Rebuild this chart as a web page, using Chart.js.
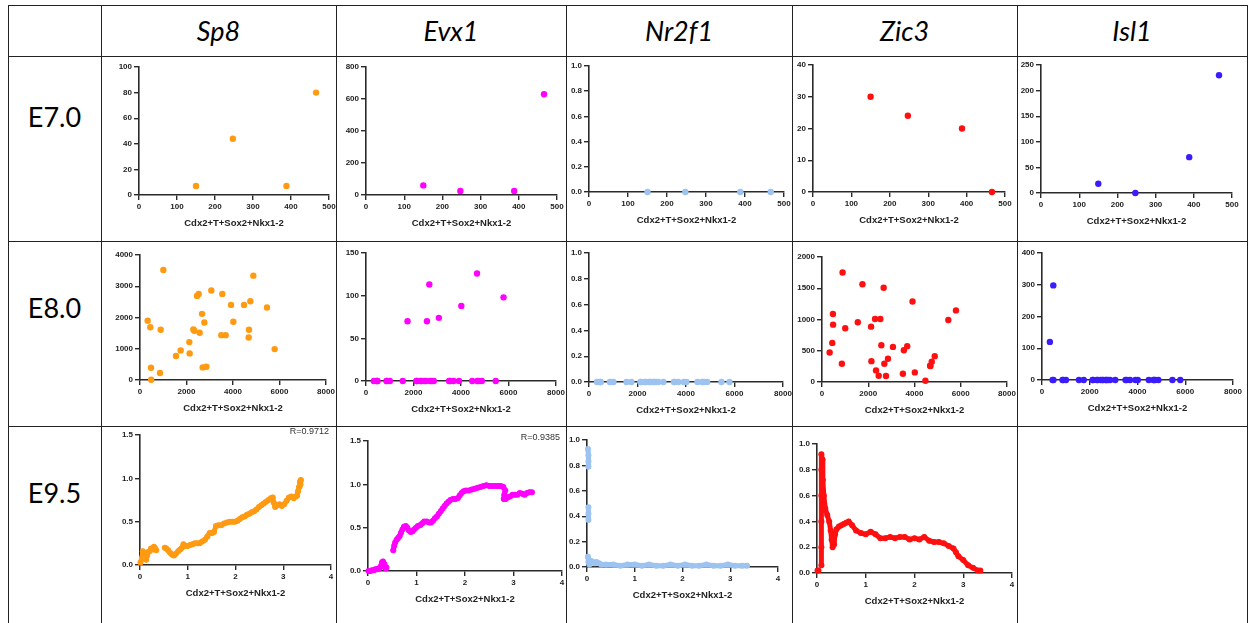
<!DOCTYPE html>
<html>
<head>
<meta charset="utf-8">
<script src="https://cdn.jsdelivr.net/npm/chart.js@4.4.0/dist/chart.umd.min.js"></script>
<style>
  body { margin: 0; background: #fff; width: 1250px; height: 623px; overflow: hidden; position: relative; font-family: Lato, "Liberation Sans", sans-serif; }
  .hl { position: absolute; height: 1px; background: #222; z-index: 5; }
  .vl { position: absolute; width: 1px; background: #222; z-index: 5; }
  .cell { position: absolute; overflow: hidden; }
  .cell canvas { position: absolute; }
  .head { position: absolute; font-style: italic; font-size: 27px; text-align: center; line-height: 51px; color: #000; }
  .stage { position: absolute; font-size: 27px; text-align: center; line-height: 30px; color: #000; }
</style>
</head>
<body>
<script>
const genes = ['Sp8', 'Evx1', 'Nr2f1', 'Zic3', 'Isl1'];
const stages = ['E7.0', 'E8.0', 'E9.5'];
const colors = ['#FF9A12', '#FF00FF', '#9DC3F0', '#FF1010', '#3A1CFF'];
const xTitle = 'Cdx2+T+Sox2+Nkx1-2';

// x ticks per stage
const xTicksE70 = [0, 100, 200, 300, 400, 500];
const xTicksE80 = [0, 2000, 4000, 6000, 8000];
const xTicksE95 = [0, 1, 2, 3, 4];

// y ticks per panel
const yTicksSp8E70 = [0, 20, 40, 60, 80, 100];
const yTicksEvx1E70 = [0, 200, 400, 600, 800];
const yTicksNr2f1 = [0, 0.2, 0.4, 0.6, 0.8, 1.0];
const yTicksZic3E70 = [0, 10, 20, 30, 40];
const yTicksIsl1E70 = [0, 50, 100, 150, 200, 250];
const yTicksSp8E80 = [0, 1000, 2000, 3000, 4000];
const yTicksEvx1E80 = [0, 50, 100, 150];
const yTicksZic3E80 = [0, 500, 1000, 1500, 2000];
const yTicksIsl1E80 = [0, 100, 200, 300, 400];
const yTicksE95 = [0, 0.5, 1.0, 1.5];

// E7.0
const xE70 = [150, 247, 388, 466];
const sp8E70 = [7, 44, 7, 80];
const evx1E70 = [60, 25, 25, 630];
const nr2f1E70 = [0, 0, 0, 0];
const zic3E70 = [30, 24, 20, 0];
const isl1E70 = [18, 0, 70, 230];

// E8.0
const xE80 = [330, 444, 473, 480, 860, 889, 1004, 1548, 1749, 2122, 2136, 2294, 2337, 2452, 2523, 2566, 2667,
  2695, 2767, 2853, 3068, 3498, 3541, 3685, 3914, 4014, 4473, 4674, 4688, 4746, 4875, 5462, 5792];
const sp8E80 = [1900, 1690, 394, 10, 223, 1606, 3521, 766, 947, 1213, 851, 1617, 1574, 2691, 2755, 1511, 2117,
  404, 1840, 426, 2862, 1436, 2755, 1436, 2404, 1862, 2404, 1362, 1606, 2521, 3340, 2319, 989];
const evx1E80 = [0, 0, 0, 0, 0, 0, 0, 0, 70, 0, 0, 0, 0, 0, 0, 70, 113,
  0, 0, 0, 74, 0, 0, 0, 0, 88, 0, 126, 0, 0, 0, 0, 98];
const nr2f1E80 = [0, 0, 0, 0, 0, 0, 0, 0, 0, 0, 0, 0, 0, 0, 0, 0, 0,
  0, 0, 0, 0, 0, 0, 0, 0, 0, 0, 0, 0, 0, 0, 0, 0];
const zic3E80 = [472, 626, 1088, 918, 292, 1751, 859, 955, 1565, 886, 334, 1008, 186, 101, 1008, 589, 1507,
  292, 95, 371, 562, 133, 509, 573, 1289, 154, 21, 260, 255, 324, 414, 992, 1146];
const isl1E80 = [120, 0, 298, 0, 0, 0, 0, 0, 0, 0, 0, 0, 0, 0, 0, 0, 0,
  0, 0, 0, 0, 0, 0, 0, 0, 0, 0, 0, 0, 0, 0, 0, 0];

// E9.5 (x, y) pairs; null y = break in the trace
const sp8E95 = [[0.01,0.03],[0.04,0.08],[0.06,0.16],[0.08,0.12],[0.10,0.09],[0.13,0.06],[0.15,0.11],[0.17,0.15],
  [0.20,0.16],[0.23,0.19],[0.26,0.18],[0.29,0.21],[0.31,0.20],[0.34,0.17],[0.43,null],[0.52,0.20],[0.55,0.19],
  [0.59,0.17],[0.63,0.14],[0.67,0.12],[0.71,0.11],[0.75,0.13],[0.80,0.16],[0.84,0.18],[0.88,0.20],[0.91,0.24],
  [0.95,0.22],[1.00,0.22],[1.05,0.23],[1.10,0.24],[1.15,0.25],[1.20,0.25],[1.25,0.25],[1.30,0.27],[1.36,0.29],
  [1.41,0.33],[1.46,0.37],[1.51,0.37],[1.55,0.38],[1.59,0.45],[1.64,0.46],[1.70,0.46],[1.76,0.48],[1.82,0.49],
  [1.88,0.50],[1.94,0.50],[1.99,0.50],[2.04,0.51],[2.09,0.53],[2.14,0.55],[2.19,0.56],[2.24,0.58],[2.29,0.59],
  [2.34,0.61],[2.39,0.62],[2.44,0.64],[2.49,0.67],[2.54,0.69],[2.59,0.71],[2.64,0.73],[2.69,0.75],[2.74,0.77],
  [2.78,0.78],[2.80,0.72],[2.83,0.67],[2.87,0.69],[2.92,0.70],[2.97,0.68],[3.02,0.70],[3.07,0.74],[3.12,0.78],
  [3.17,0.79],[3.22,0.77],[3.26,0.79],[3.29,0.80],[3.31,0.85],[3.33,0.90],[3.35,0.96],[3.37,0.98],[3.36,0.93]];
const evx1E95 = [[0.01,0.00],[0.05,0.00],[0.08,0.01],[0.12,0.01],[0.15,0.02],[0.19,0.02],[0.22,0.03],[0.25,0.04],
  [0.27,0.06],[0.29,0.10],[0.31,0.11],[0.33,0.08],[0.35,0.05],[0.37,0.03],[0.38,0.04],[0.45,null],[0.52,0.24],
  [0.54,0.29],[0.56,0.33],[0.59,0.36],[0.62,0.38],[0.65,0.40],[0.68,0.44],[0.71,0.48],[0.74,0.51],[0.78,0.52],
  [0.81,0.50],[0.84,0.47],[0.88,0.45],[0.92,0.46],[0.95,0.48],[0.99,0.50],[1.03,0.52],[1.08,0.53],[1.12,0.55],
  [1.16,0.57],[1.21,0.57],[1.26,0.56],[1.30,0.56],[1.34,0.58],[1.38,0.61],[1.42,0.63],[1.46,0.66],[1.50,0.69],
  [1.54,0.72],[1.58,0.75],[1.62,0.78],[1.66,0.80],[1.70,0.82],[1.75,0.83],[1.80,0.83],[1.85,0.84],[1.89,0.87],
  [1.93,0.90],[1.97,0.92],[2.02,0.93],[2.08,0.93],[2.14,0.94],[2.20,0.95],[2.26,0.96],[2.32,0.97],[2.38,0.98],
  [2.44,0.99],[2.50,0.98],[2.56,0.98],[2.62,0.98],[2.68,0.98],[2.74,0.98],[2.79,0.97],[2.83,0.93],[2.81,0.88],
  [2.80,0.83],[2.84,0.83],[2.88,0.85],[2.93,0.86],[2.98,0.88],[3.03,0.88],[3.08,0.88],[3.13,0.90],[3.18,0.89],
  [3.23,0.88],[3.28,0.90],[3.33,0.91],[3.38,0.91]];
const nr2f1E95 = [[0.02,0.93],[0.03,0.88],[0.03,0.83],[0.03,0.79],[0.03,null],[0.03,0.47],[0.03,0.42],[0.03,0.37],
  [0.03,null],[0.02,0.08],[0.03,0.04],[0.05,0.02],[0.08,0.05],[0.12,0.04],[0.16,0.03],[0.20,0.04],[0.25,0.03],
  [0.30,0.02],[0.40,0.02],[0.55,0.02],[0.70,0.01],[0.85,0.02],[1.00,0.02],[1.15,0.01],[1.30,0.02],[1.45,0.01],
  [1.60,0.01],[1.75,0.02],[1.90,0.01],[2.05,0.02],[2.20,0.01],[2.35,0.01],[2.50,0.02],[2.65,0.01],[2.80,0.01],
  [2.95,0.02],[3.10,0.01],[3.25,0.01],[3.35,0.01]];
const zic3E95 = [[0.01,0.02],[0.03,0.02],[0.05,null],[0.09,0.06],[0.09,0.20],[0.09,0.40],[0.09,0.60],[0.09,0.80],
  [0.09,0.92],[0.11,0.88],[0.12,0.72],[0.14,0.60],[0.17,0.50],[0.21,0.45],[0.25,0.40],[0.28,0.33],[0.30,0.26],
  [0.32,0.20],[0.35,0.22],[0.37,0.30],[0.40,0.34],[0.45,0.36],[0.50,0.37],[0.55,0.38],[0.60,0.39],[0.65,0.40],
  [0.72,0.37],[0.80,0.33],[0.90,0.31],[1.00,0.30],[1.10,0.32],[1.20,0.30],[1.30,0.27],[1.40,0.27],[1.50,0.28],
  [1.60,0.27],[1.70,0.28],[1.80,0.28],[1.90,0.26],[2.00,0.27],[2.10,0.26],[2.20,0.28],[2.30,0.25],[2.40,0.24],
  [2.50,0.24],[2.60,0.23],[2.70,0.21],[2.80,0.19],[2.85,0.16],[2.90,0.13],[3.00,0.10],[3.10,0.06],[3.20,0.04],
  [3.30,0.02],[3.35,0.02]];

const rValues = { Sp8: 'R=0.9712', Evx1: 'R=0.9385' };

// page layout (table lines and plot boxes [left, right, top, bottom])
const colEdges = [8, 101, 336, 566, 792, 1017, 1247];
const rowEdges = [5, 56, 241, 426, 700];
const stageLabelY = [117, 308, 493];
const plotBoxes = [
  [[139, 329, 67, 195], [366, 557, 67, 195], [589, 784, 66, 192], [813, 1005, 65, 192], [1041, 1232, 65, 193]],
  [[140, 326, 255, 380], [366, 556, 253, 381], [589, 783, 253, 382], [822, 1007, 257, 382], [1042, 1233, 253, 380]],
  [[140, 331, 435, 565], [368, 562, 441, 571], [587, 778, 440, 567], [817, 1012, 444, 573], null]
];

const zip = (xs, ys) => xs.map((x, i) => ({ x: x, y: ys[i] }));
const pairs = arr => arr.map(p => ({ x: p[0], y: p[1] }));

const panels = [
  [
    { data: zip(xE70, sp8E70), xt: xTicksE70, yt: yTicksSp8E70 },
    { data: zip(xE70, evx1E70), xt: xTicksE70, yt: yTicksEvx1E70 },
    { data: zip(xE70, nr2f1E70), xt: xTicksE70, yt: yTicksNr2f1 },
    { data: zip(xE70, zic3E70), xt: xTicksE70, yt: yTicksZic3E70 },
    { data: zip(xE70, isl1E70), xt: xTicksE70, yt: yTicksIsl1E70 }
  ],
  [
    { data: zip(xE80, sp8E80), xt: xTicksE80, yt: yTicksSp8E80 },
    { data: zip(xE80, evx1E80), xt: xTicksE80, yt: yTicksEvx1E80 },
    { data: zip(xE80, nr2f1E80), xt: xTicksE80, yt: yTicksNr2f1 },
    { data: zip(xE80, zic3E80), xt: xTicksE80, yt: yTicksZic3E80 },
    { data: zip(xE80, isl1E80), xt: xTicksE80, yt: yTicksIsl1E80 }
  ],
  [
    { data: pairs(sp8E95), xt: xTicksE95, yt: yTicksE95, dense: true },
    { data: pairs(evx1E95), xt: xTicksE95, yt: yTicksE95, dense: true },
    { data: pairs(nr2f1E95), xt: xTicksE95, yt: yTicksNr2f1, dense: true },
    { data: pairs(zic3E95), xt: xTicksE95, yt: yTicksNr2f1, dense: true },
    null
  ]
];

// grid lines
colEdges.forEach(x => {
  const d = document.createElement('div');
  d.className = 'vl';
  d.style.left = x + 'px'; d.style.top = rowEdges[0] + 'px'; d.style.height = (623 - rowEdges[0]) + 'px';
  document.body.appendChild(d);
});
rowEdges.slice(0, 4).forEach(y => {
  const d = document.createElement('div');
  d.className = 'hl';
  d.style.top = y + 'px'; d.style.left = colEdges[0] + 'px'; d.style.width = (colEdges[6] - colEdges[0] + 1) + 'px';
  document.body.appendChild(d);
});

// header + stage labels
genes.forEach((g, i) => {
  const d = document.createElement('div');
  d.className = 'head';
  d.textContent = g;
  d.style.left = colEdges[i + 1] + 'px'; d.style.width = (colEdges[i + 2] - colEdges[i + 1]) + 'px';
  d.style.top = rowEdges[0] + 'px'; d.style.height = (rowEdges[1] - rowEdges[0]) + 'px';
  document.body.appendChild(d);
});
stages.forEach((s, i) => {
  const d = document.createElement('div');
  d.className = 'stage';
  d.textContent = s;
  d.style.left = colEdges[0] + 'px'; d.style.width = (colEdges[1] - colEdges[0]) + 'px';
  d.style.top = (stageLabelY[i] - 15) + 'px';
  document.body.appendChild(d);
});

const fmt = (v, ticks) => ticks.some(t => t % 1 !== 0) ? v.toFixed(1) : String(v);

const rLabel = {
  id: 'rLabel',
  afterDraw(chart, args, opts) {
    if (!opts.text) return;
    const c = chart.ctx;
    c.save();
    c.font = '9px "Liberation Sans", Arial, sans-serif';
    c.fillStyle = '#333';
    c.textAlign = 'right';
    c.textBaseline = 'middle';
    c.fillText(opts.text, chart.chartArea.right - 2, chart.chartArea.top - 3);
    c.restore();
  }
};

const axisColor = '#2a2a2a';
const tickFont = { family: '"Liberation Sans", Arial, sans-serif', size: 8, weight: 'bold' };
const padL = 40, padT = 10, padR = 14, padB = 40;

function zeroPad(scale) {
  scale.paddingTop = 0; scale.paddingBottom = 0; scale.paddingLeft = 0; scale.paddingRight = 0;
}

panels.forEach((row, r) => {
  row.forEach((p, c) => {
    if (!p) return;
    const box = plotBoxes[r][c];
    const cell = document.createElement('div');
    cell.className = 'cell';
    const cx = colEdges[c + 1] + 1, cy = rowEdges[r + 1] + 1;
    cell.style.left = cx + 'px'; cell.style.top = cy + 'px';
    cell.style.width = (colEdges[c + 2] - cx) + 'px'; cell.style.height = (rowEdges[r + 2] - cy) + 'px';
    document.body.appendChild(cell);

    const cv = document.createElement('canvas');
    const w = box[1] - box[0] + padL + padR, h = box[3] - box[2] + padT + padB;
    cv.width = w; cv.height = h;
    cv.style.width = w + 'px'; cv.style.height = h + 'px';
    cv.style.left = (box[0] - padL - cx) + 'px';
    cv.style.top = (box[2] - padT - cy) + 'px';
    cell.appendChild(cv);

    const col = colors[c];
    new Chart(cv, {
      type: 'scatter',
      data: {
        datasets: [{
          data: p.data,
          backgroundColor: col,
          borderColor: col,
          pointRadius: p.dense ? 3 : 3.2,
          pointBorderWidth: 0,
          pointHoverRadius: 3,
          showLine: !!p.dense,
          borderWidth: p.dense ? 5 : 0,
          borderJoinStyle: 'round',
          borderCapStyle: 'round',
          spanGaps: false,
          clip: false
        }]
      },
      options: {
        responsive: false,
        animation: false,
        devicePixelRatio: 1,
        layout: { padding: { left: 0, top: padT, right: padR, bottom: 0 } },
        plugins: {
          legend: { display: false },
          tooltip: { enabled: false },
          rLabel: { text: r === 2 ? rValues[genes[c]] : null }
        },
        scales: {
          x: {
            type: 'linear',
            min: p.xt[0], max: p.xt[p.xt.length - 1],
            afterBuildTicks: s => { s.ticks = p.xt.map(v => ({ value: v })); },
            afterFit: s => { s.height = padB; zeroPad(s); },
            ticks: { font: tickFont, color: '#222', padding: 2, maxRotation: 0, autoSkip: false,
              callback: v => fmt(v, p.xt) },
            grid: { display: true, drawOnChartArea: false, drawTicks: true, tickLength: 5, color: axisColor, lineWidth: 1.4 },
            border: { display: true, color: axisColor, width: 1.6 },
            title: { display: true, text: xTitle, color: '#222', padding: { top: 2, bottom: 6 },
              font: { family: '"Liberation Sans", Arial, sans-serif', size: 9.5, weight: 'bold' } }
          },
          y: {
            type: 'linear',
            min: p.yt[0], max: p.yt[p.yt.length - 1],
            afterBuildTicks: s => { s.ticks = p.yt.map(v => ({ value: v })); },
            afterFit: s => { s.width = padL; zeroPad(s); },
            ticks: { font: tickFont, color: '#222', padding: 2, autoSkip: false,
              callback: v => fmt(v, p.yt) },
            grid: { display: true, drawOnChartArea: false, drawTicks: true, tickLength: 5, color: axisColor, lineWidth: 1.4 },
            border: { display: true, color: axisColor, width: 1.6 }
          }
        }
      },
      plugins: [rLabel]
    });
  });
});
</script>
</body>
</html>
